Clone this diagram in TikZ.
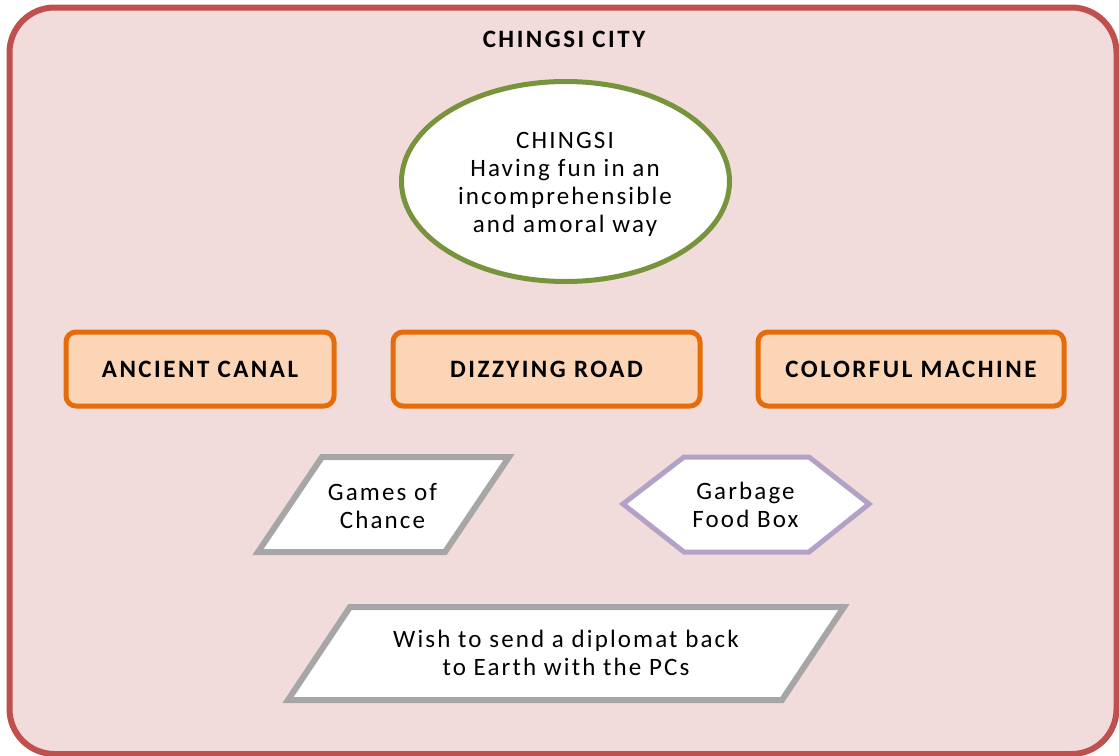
\documentclass[tikz,border=0pt]{standalone}
\usepackage{fontspec}
\setmainfont{Carlito}
\newfontfamily\plainfont[LetterSpace=8.5]{Carlito}
\newfontfamily\headfont[LetterSpace=10]{Carlito Bold}
\usetikzlibrary{shapes.geometric}
\definecolor{cityfill}{HTML}{F2DCDB}
\definecolor{cityline}{HTML}{C0504D}
\definecolor{placefill}{HTML}{FBD5B5}
\definecolor{placeline}{HTML}{E46C0A}
\definecolor{chiefline}{HTML}{77933C}
\definecolor{greyline}{HTML}{A6A6A6}
\definecolor{lilacline}{HTML}{B3A2C7}
\tikzset{
  x=1pt, y=-1pt,
  plaintext/.style={font=\plainfont\fontsize{25}{28}\selectfont, align=center, inner sep=0pt},
  headtext/.style={font=\headfont\fontsize{25}{28}\selectfont, align=center, inner sep=0pt},
  placebox/.style={headtext, draw=placeline, fill=placefill, line width=5pt,
    rounded corners=10pt, minimum height=74pt},
  chief/.style={plaintext, ellipse, draw=chiefline, fill=white, line width=5pt,
    minimum width=328pt, minimum height=200pt},
  greyshape/.style={draw=greyline, fill=white, line width=6pt},
  lilacshape/.style={draw=lilacline, fill=white, line width=5pt},
}
\begin{document}
\begin{tikzpicture}
\useasboundingbox (0,0) rectangle (1119,755);
% city frame
\draw[cityline, fill=cityfill, line width=6pt, rounded corners=45pt]
  (9.5,7.5) rectangle (1116.5,754);
\node[headtext] (title) at (564,39) {CHINGSI CITY};

% ruler
\node[chief] (chingsi) at (565.5,181.5) {};
\node[plaintext] (chingsitext) at (565,184)
  {CHINGSI\\Having fun in an\\incomprehensible\\and amoral way};

% districts
\node[placebox, minimum width=268pt] (canal) at (200,369) {ANCIENT CANAL};
\node[placebox, minimum width=307pt] (road) at (546.5,369) {DIZZYING ROAD};
\node[placebox, minimum width=306pt] (machine) at (911,369) {COLORFUL MACHINE};

% games of chance
\draw[greyshape] (322,457) -- (509,457) -- (445,552) -- (258,552) -- cycle;
\node[plaintext] (games) at (382.5,506.5) {Games of\\Chance};

% garbage food box
\draw[lilacshape] (623,504) -- (684,457) -- (809,457) -- (869,504)
  -- (809,552) -- (684,552) -- cycle;
\node[plaintext] (garbage) at (745.5,504.5) {Garbage\\Food Box};

% diplomat wish
\draw[greyshape] (350,607) -- (844,607) -- (782,700) -- (288,700) -- cycle;
\node[plaintext] (wish) at (566,653)
  {Wish to send a diplomat back\\to Earth with the PCs};
\end{tikzpicture}
\end{document}
